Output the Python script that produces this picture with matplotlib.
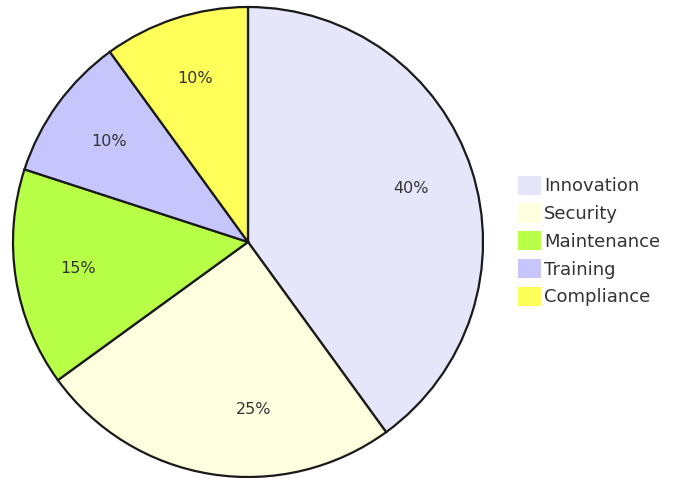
import matplotlib
matplotlib.use("Agg")
import matplotlib.pyplot as plt

# Données
labels = ["Innovation", "Security", "Maintenance", "Training", "Compliance"]
values = [40, 25, 15, 10, 10]
colors = ["#e6e6fa", "#ffffe0", "#b8ff48", "#c6c6fc", "#ffff5a"]

fig = plt.figure(figsize=(6.85, 4.78), dpi=100)
ax = fig.add_axes([13 / 685, 1 / 478, 470 / 685, 470 / 478])

wedges, texts, autotexts = ax.pie(
    values, colors=colors, startangle=90, counterclock=False,
    autopct="%1.0f%%", pctdistance=0.73, radius=1.0,
    wedgeprops=dict(edgecolor="#1a1a1a", linewidth=1.6),
    textprops=dict(color="#333333", fontsize=11.5),
)
# petit décalage du libellé 25% comme dans l'original
x, y = autotexts[1].get_position()
autotexts[1].set_position((x + 0.14, y + 0.01))

ax.set_xlim(-1.0, 1.0)
ax.set_ylim(-1.0, 1.0)
ax.set_aspect("equal")
ax.axis("off")

fig.legend(wedges, labels, loc="center left", bbox_to_anchor=(518 / 685, 1 - 241 / 478),
           frameon=False, fontsize=13, handlelength=1.25, handleheight=1.25,
           labelspacing=0.45, handletextpad=0.2, borderaxespad=0,
           borderpad=0, labelcolor="#333333")
for h in fig.legends[0].legend_handles:
    h.set_edgecolor("none")

fig.savefig("out.png", dpi=100)
